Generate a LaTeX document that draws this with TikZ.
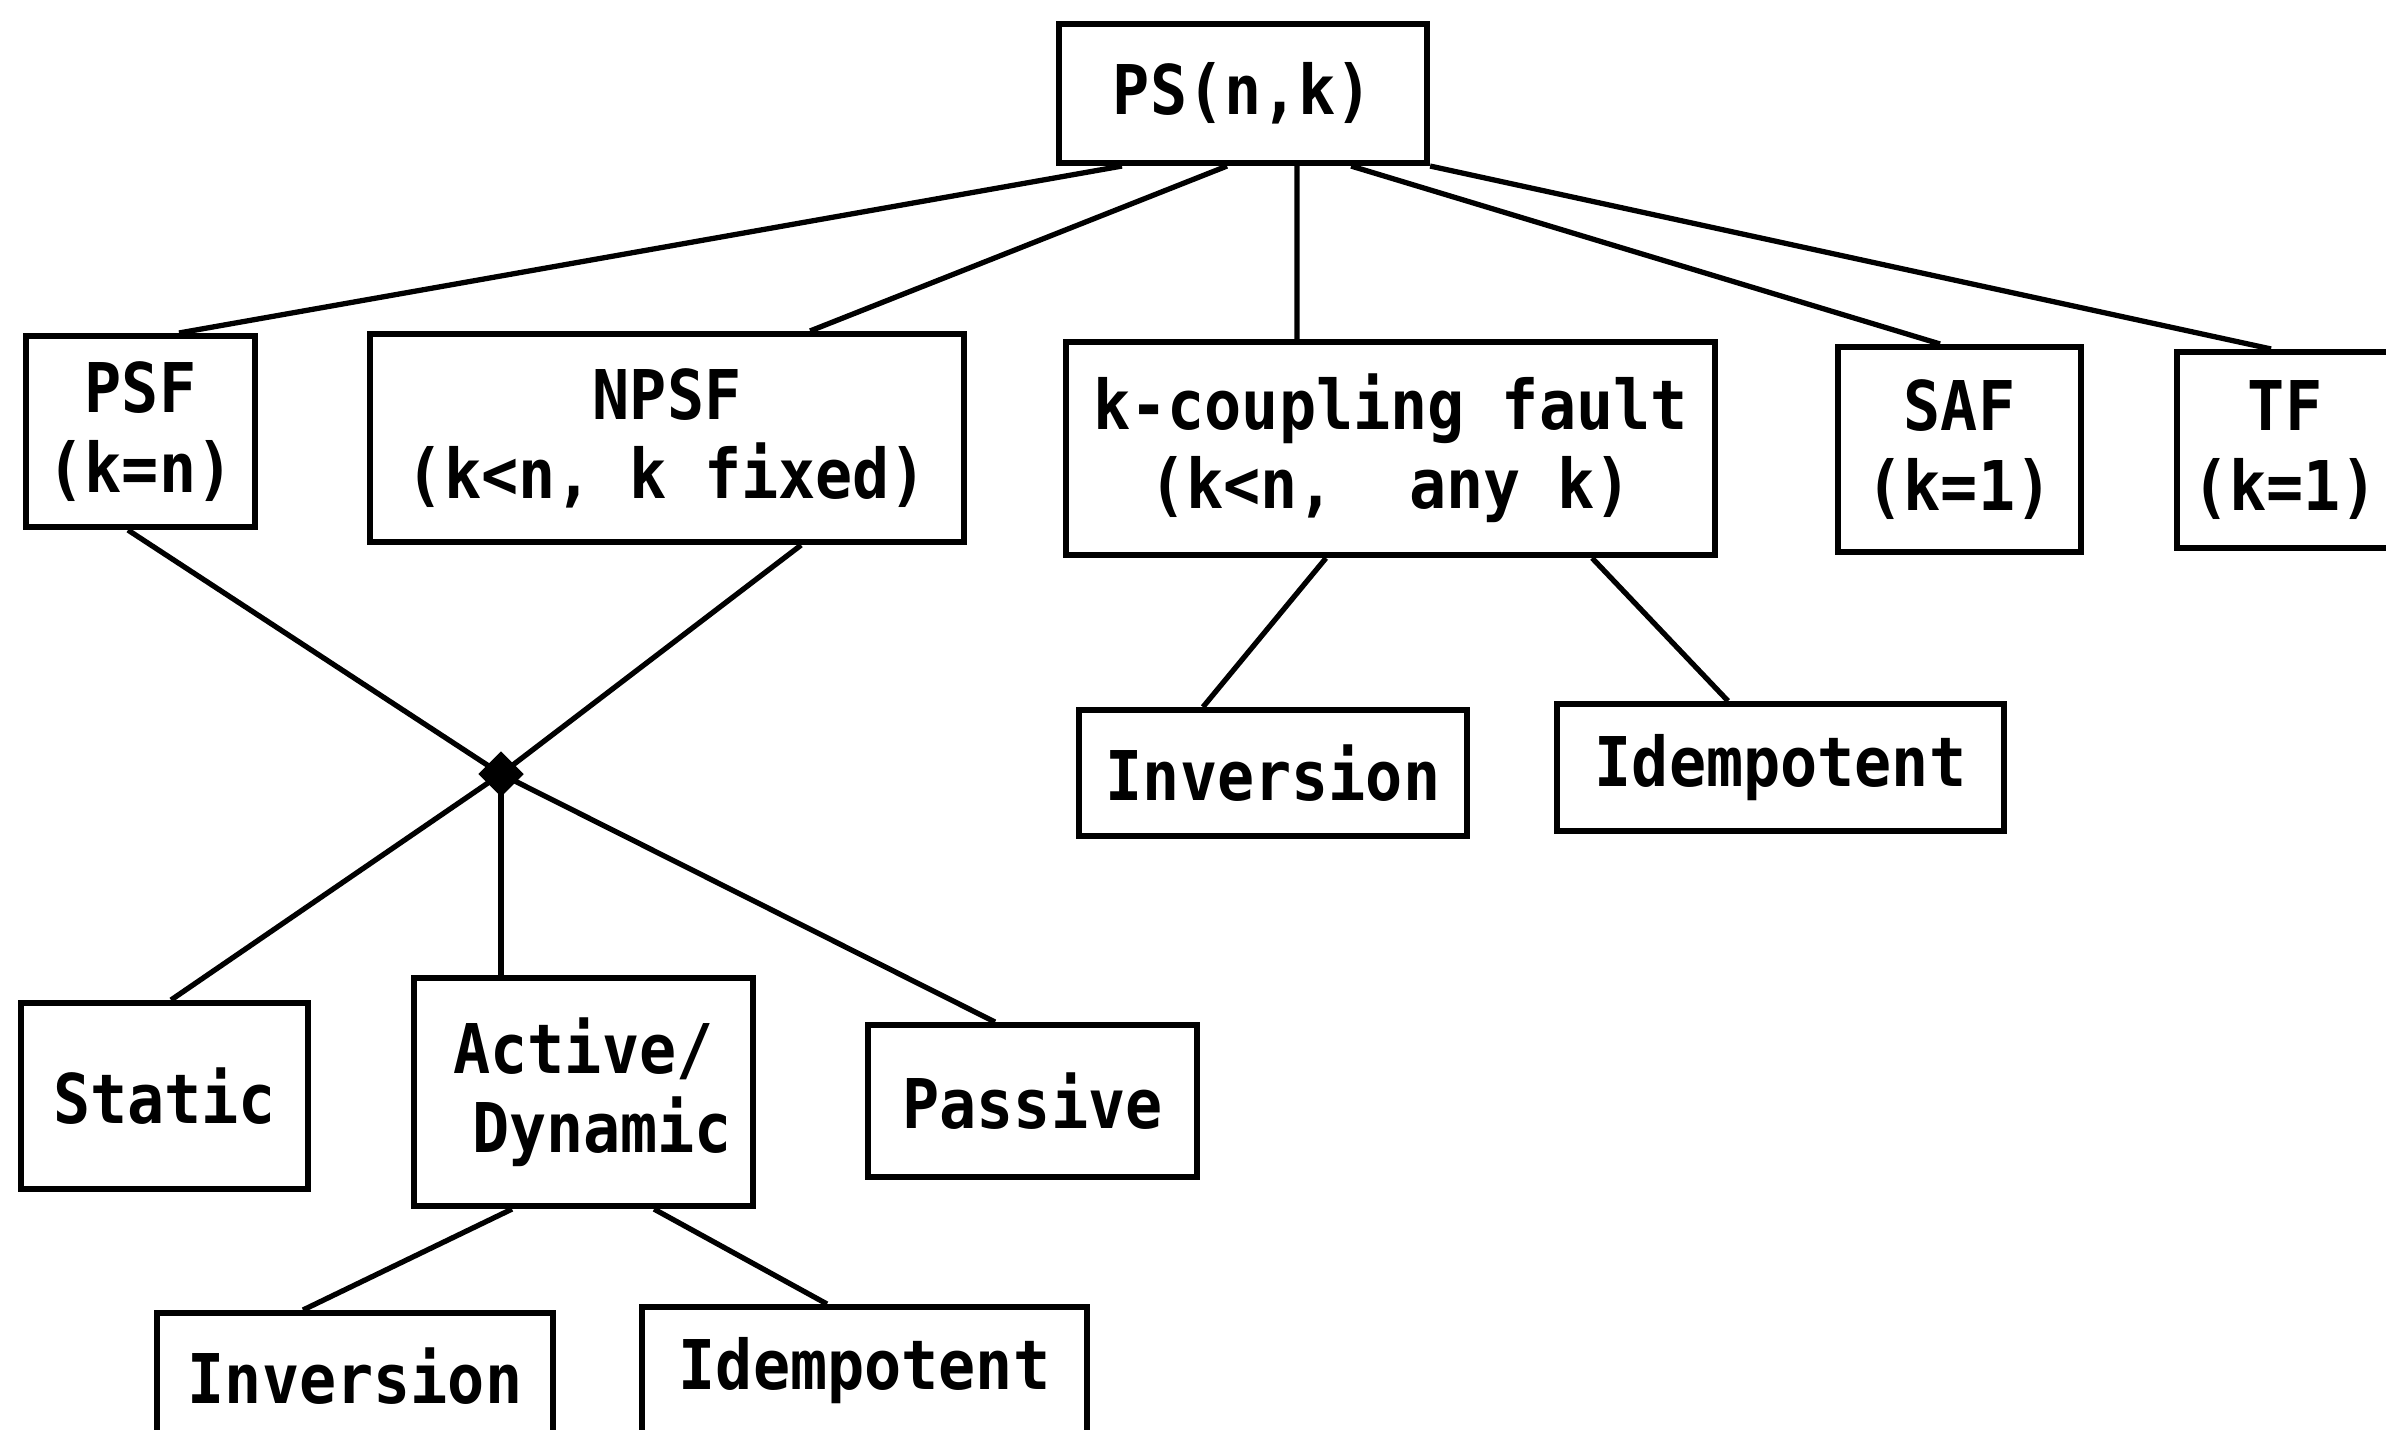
\documentclass[tikz,border=0pt]{standalone}
\usepackage{fontspec}
\setmonofont[FakeStretch=0.9]{DejaVu Sans Mono}
\usetikzlibrary{shapes.geometric}

\tikzset{
  faults/.style={
    x=0.01cm, y=-0.01cm,
    every node/.style={font=\ttfamily\bfseries\fontsize{19.5}{22.5}\selectfont, align=center},
    faultbox/.style={draw, line width=1.7pt, inner sep=0pt},
    link/.style={line width=1.5pt},
    joint/.style={diamond, fill=black, inner sep=0pt, minimum size=0.46cm}
  }
}

\begin{document}
\begin{tikzpicture}[faults]
    \useasboundingbox (0,0) rectangle (2386,1429);
    \fill[white] (0,0) rectangle (2386,1429);
    \clip (0,0) rectangle (2386,1429);

    \node[faultbox, minimum width=3.68cm, minimum height=1.39cm] (ps) at (1243,93.5) {PS(n,k)};

    \node[faultbox, minimum width=2.29cm, minimum height=1.91cm] (psf) at (140.5,431.5) {PSF\\(k=n)};
    \node[faultbox, minimum width=5.94cm, minimum height=2.08cm] (npsf) at (667,438) {NPSF\\(k<n, k fixed)};
    \node[faultbox, minimum width=6.49cm, minimum height=2.13cm] (kcf) at (1390.5,448.5) {k-coupling fault\\(k<n,\ \ any k)};
    \node[faultbox, minimum width=2.43cm, minimum height=2.05cm] (saf) at (1959.5,449.5) {SAF\\(k=1)};
    \node[faultbox, minimum width=2.16cm, minimum height=1.96cm] (tf) at (2285,450) {TF\\(k=1)};

    \node[faultbox, minimum width=3.88cm, minimum height=1.26cm] (kinv) at (1273,773) {Inversion};
    \node[faultbox, minimum width=4.47cm, minimum height=1.27cm] (kidem) at (1780.5,767.5) {Idempotent};

    \node[joint] (jn) at (501,774) {};

    \node[faultbox, minimum width=2.87cm, minimum height=1.86cm] (static) at (164.5,1096) {Static};
    \node[faultbox, minimum width=3.39cm, minimum height=2.28cm] (active) at (583.5,1092) {Active/\\\ Dynamic};
    \node[faultbox, minimum width=3.29cm, minimum height=1.52cm] (passive) at (1032.5,1101) {Passive};

    \node[faultbox, minimum width=3.96cm, minimum height=1.26cm] (ainv) at (355,1376) {Inversion};
    \node[faultbox, minimum width=4.45cm, minimum height=1.27cm] (aidem) at (864.5,1370.5) {Idempotent};

    \draw[link] ([xshift=0.66cm]ps.south west) -- ([xshift=1.56cm]psf.north west);
    \draw[link] ([xshift=1.71cm]ps.south west) -- ([xshift=4.43cm]npsf.north west);
    \draw[link] ([xshift=2.41cm]ps.south west) -- ([xshift=2.34cm]kcf.north west);
    \draw[link] ([xshift=2.95cm]ps.south west) -- ([xshift=1.05cm]saf.north west);
    \draw[link] (ps.south east) -- ([xshift=0.97cm]tf.north west);

    \draw[link] ([xshift=1.05cm]psf.south west) -- (jn.center);
    \draw[link] ([xshift=4.34cm]npsf.south west) -- (jn.center);
    \draw[link] (jn.center) -- ([xshift=1.53cm]static.north west);
    \draw[link] (jn.center) -- (jn |- active.north);
    \draw[link] (jn.center) -- ([xshift=1.30cm]passive.north west);

    \draw[link] ([xshift=2.63cm]kcf.south west) -- ([xshift=1.27cm]kinv.north west);
    \draw[link] ([xshift=5.29cm]kcf.south west) -- ([xshift=1.74cm]kidem.north west);

    \draw[link] ([xshift=1.01cm]active.south west) -- ([xshift=1.49cm]ainv.north west);
    \draw[link] ([xshift=2.43cm]active.south west) -- ([xshift=1.88cm]aidem.north west);
\end{tikzpicture}
\end{document}
